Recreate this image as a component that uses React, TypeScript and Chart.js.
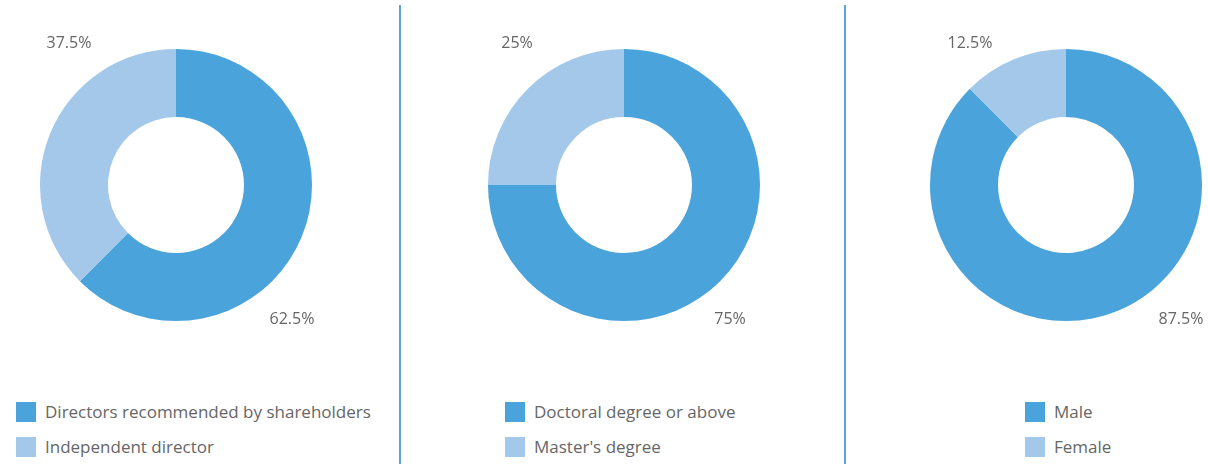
import React, { useEffect, useRef } from "react";
import { Chart, registerables } from "chart.js";

Chart.register(...registerables);

const boardLabels = ["Directors recommended by shareholders", "Independent director"];
const boardValues = [62.5, 37.5];
const eduLabels = ["Doctoral degree or above", "Master's degree"];
const eduValues = [75, 25];
const genderLabels = ["Male", "Female"];
const genderValues = [87.5, 12.5];
const pctText = (v: number) => `${v}%`;

const DARK = "#4aa3db";
const LIGHT = "#a3c8ea";
const FONT = "'Open Sans', 'Noto Sans', sans-serif";

type PanelCfg = {
  labels: string[];
  values: number[];
  cx: number;
  legendLeft: number;
  labelOffsets: [number, number][]; // per slice [dx, dy] from center
};

const panels: PanelCfg[] = [
  { labels: boardLabels, values: boardValues, cx: 176, legendLeft: 16, labelOffsets: [[116, 134], [-107, -142]] },
  { labels: eduLabels, values: eduValues, cx: 624, legendLeft: 505, labelOffsets: [[106, 134], [-107, -142]] },
  { labels: genderLabels, values: genderValues, cx: 1066, legendLeft: 1025, labelOffsets: [[115, 134], [-96, -142]] },
];

const CY = 185;
const CW = 300;
const CH = 340;

function Donut({ cfg }: { cfg: PanelCfg }) {
  const ref = useRef<HTMLCanvasElement | null>(null);
  useEffect(() => {
    if (!ref.current) return;
    const labelPlugin = {
      id: "pctLabels",
      afterDraw(chart: any) {
        const ctx = chart.ctx;
        const a = chart.chartArea;
        const cx = (a.left + a.right) / 2;
        const cy = (a.top + a.bottom) / 2;
        ctx.save();
        ctx.font = `16px ${FONT}`;
        ctx.fillStyle = "#666666";
        ctx.textAlign = "center";
        ctx.textBaseline = "middle";
        cfg.values.forEach((v, i) => {
          const [dx, dy] = cfg.labelOffsets[i];
          ctx.fillText(pctText(v), cx + dx, cy + dy);
        });
        ctx.restore();
      },
    };
    const chart = new Chart(ref.current, {
      type: "doughnut",
      data: {
        labels: cfg.labels,
        datasets: [
          {
            data: cfg.values,
            backgroundColor: [DARK, LIGHT],
            borderWidth: 0,
          },
        ],
      },
      options: {
        animation: false,
        responsive: false,
        maintainAspectRatio: false,
        cutout: "50%",
        layout: { padding: { left: 14, right: 14, top: 34, bottom: 34 } },
        plugins: { legend: { display: false }, tooltip: { enabled: false } },
      },
      plugins: [labelPlugin],
    });
    return () => chart.destroy();
  }, [cfg]);
  return (
    <canvas
      ref={ref}
      width={CW}
      height={CH}
      style={{ position: "absolute", left: cfg.cx - CW / 2, top: CY - CH / 2, width: CW, height: CH }}
    />
  );
}

function Legend({ cfg }: { cfg: PanelCfg }) {
  return (
    <div style={{ position: "absolute", left: cfg.legendLeft, top: 402 }}>
      {cfg.labels.map((l, i) => (
        <div key={l} style={{ display: "flex", alignItems: "center", height: 20, marginBottom: 15 }}>
          <div style={{ width: 20, height: 20, background: i === 0 ? DARK : LIGHT, marginRight: 9 }} />
          <span style={{ font: `17px ${FONT}`, color: "#666666", whiteSpace: "nowrap", lineHeight: "20px" }}>{l}</span>
        </div>
      ))}
    </div>
  );
}

export default function App() {
  return (
    <div
      style={{
        position: "fixed",
        left: 0,
        top: 0,
        width: 1208,
        height: 464,
        overflow: "hidden",
        background: "#ffffff",
      }}
    >
      {panels.map((p, i) => (
        <React.Fragment key={i}>
          <Donut cfg={p} />
          <Legend cfg={p} />
        </React.Fragment>
      ))}
      <div style={{ position: "absolute", left: 399, top: 5, width: 2, height: 459, background: "#5ba3d9" }} />
      <div style={{ position: "absolute", left: 844, top: 5, width: 2, height: 459, background: "#5ba3d9" }} />
    </div>
  );
}
